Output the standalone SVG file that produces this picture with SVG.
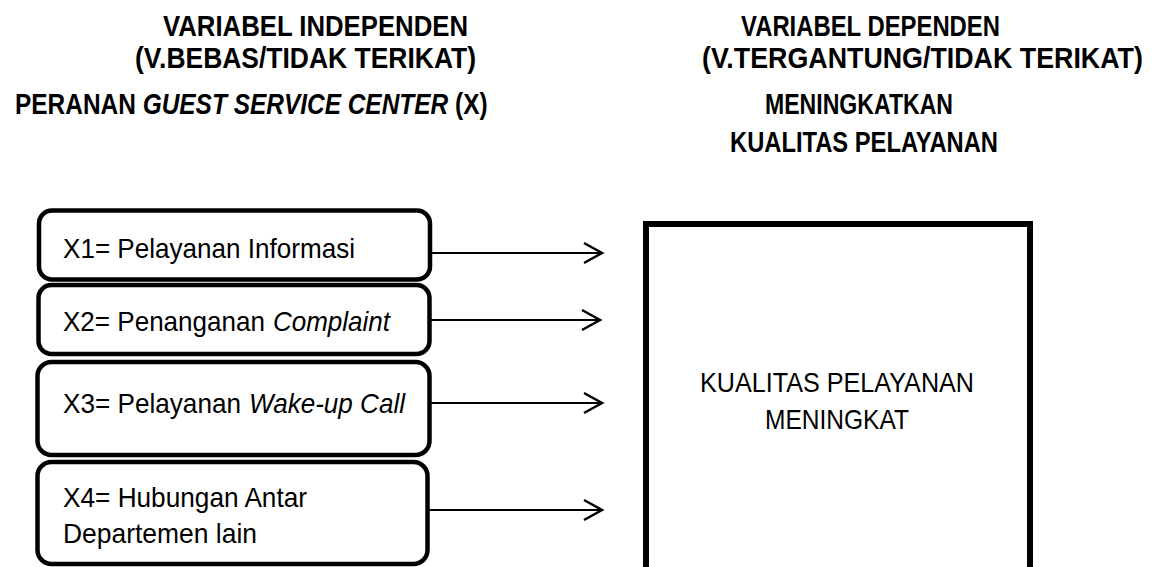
<svg xmlns="http://www.w3.org/2000/svg" width="1153" height="567" viewBox="0 0 1153 567">
<style>
.hd{font-family:"Liberation Sans",Arial,sans-serif;font-weight:bold;font-size:29px;fill:#000}
.tx{font-family:"Liberation Sans",Arial,sans-serif;font-size:28px;fill:#000}
.it{font-style:italic}
.box{fill:#fff;stroke:#000;stroke-width:4.5}
.big{fill:#fff;stroke:#000;stroke-width:6}
.arr{stroke:#000;stroke-width:2;fill:none;marker-end:url(#open)}
</style>
<defs>
<marker id="open" markerUnits="userSpaceOnUse" markerWidth="24" markerHeight="26" refX="20" refY="12" orient="auto">
<path d="M2,2 L20,12 L2,22" fill="none" stroke="#000" stroke-width="2.5"/>
</marker>
</defs>
<rect width="1153" height="567" fill="#fff"/>
<g id="headers">
<text class="hd" x="163" y="36" textLength="305" lengthAdjust="spacingAndGlyphs">VARIABEL INDEPENDEN</text>
<text class="hd" x="135" y="68" textLength="341" lengthAdjust="spacingAndGlyphs">(V.BEBAS/TIDAK TERIKAT)</text>
<text class="hd" transform="translate(15,114) scale(0.843,1)">PERANAN <tspan class="it">GUEST SERVICE CENTER</tspan> (X)</text>
<text class="hd" x="741" y="36" textLength="259" lengthAdjust="spacingAndGlyphs">VARIABEL DEPENDEN</text>
<text class="hd" transform="translate(702,68) scale(0.925,1)">(V.TERGANTUNG/TIDAK TERIKAT)</text>
<text class="hd" x="765" y="114" textLength="188" lengthAdjust="spacingAndGlyphs">MENINGKATKAN</text>
<text class="hd" x="730" y="152" textLength="268" lengthAdjust="spacingAndGlyphs">KUALITAS PELAYANAN</text>
</g>
<g id="connectors">
<line class="arr" x1="432" y1="253" x2="602" y2="253"/>
<line class="arr" x1="428" y1="320" x2="600" y2="320"/>
<line class="arr" x1="428" y1="403" x2="602" y2="403"/>
<line class="arr" x1="428" y1="510" x2="602" y2="510"/>
</g>
<g id="x1">
<rect class="box" x="39" y="210.5" width="391" height="69" rx="13"/>
<text class="tx" x="63" y="258" textLength="292" lengthAdjust="spacingAndGlyphs">X1= Pelayanan Informasi</text>
</g>
<g id="x2">
<rect class="box" x="38.5" y="285" width="391" height="69" rx="13"/>
<text class="tx" x="63" y="331" textLength="202" lengthAdjust="spacingAndGlyphs">X2= Penanganan</text>
<text class="tx it" x="273" y="331" textLength="117" lengthAdjust="spacingAndGlyphs">Complaint</text>
</g>
<g id="x3">
<rect class="box" x="37.5" y="362" width="392" height="93" rx="14"/>
<text class="tx" x="63" y="413" textLength="178" lengthAdjust="spacingAndGlyphs">X3= Pelayanan</text>
<text class="tx it" x="249" y="413" textLength="156" lengthAdjust="spacingAndGlyphs">Wake-up Call</text>
</g>
<g id="x4">
<rect class="box" x="37.5" y="462" width="390" height="102" rx="14"/>
<text class="tx" x="63" y="507" textLength="244" lengthAdjust="spacingAndGlyphs">X4= Hubungan Antar</text>
<text class="tx" x="63" y="543" textLength="194" lengthAdjust="spacingAndGlyphs">Departemen lain</text>
</g>
<g id="y">
<rect class="big" x="646" y="224" width="384" height="360"/>
<text class="tx" x="837" y="392" text-anchor="middle" textLength="274" lengthAdjust="spacingAndGlyphs">KUALITAS PELAYANAN</text>
<text class="tx" x="837" y="429" text-anchor="middle" textLength="144" lengthAdjust="spacingAndGlyphs">MENINGKAT</text>
</g>
</svg>
